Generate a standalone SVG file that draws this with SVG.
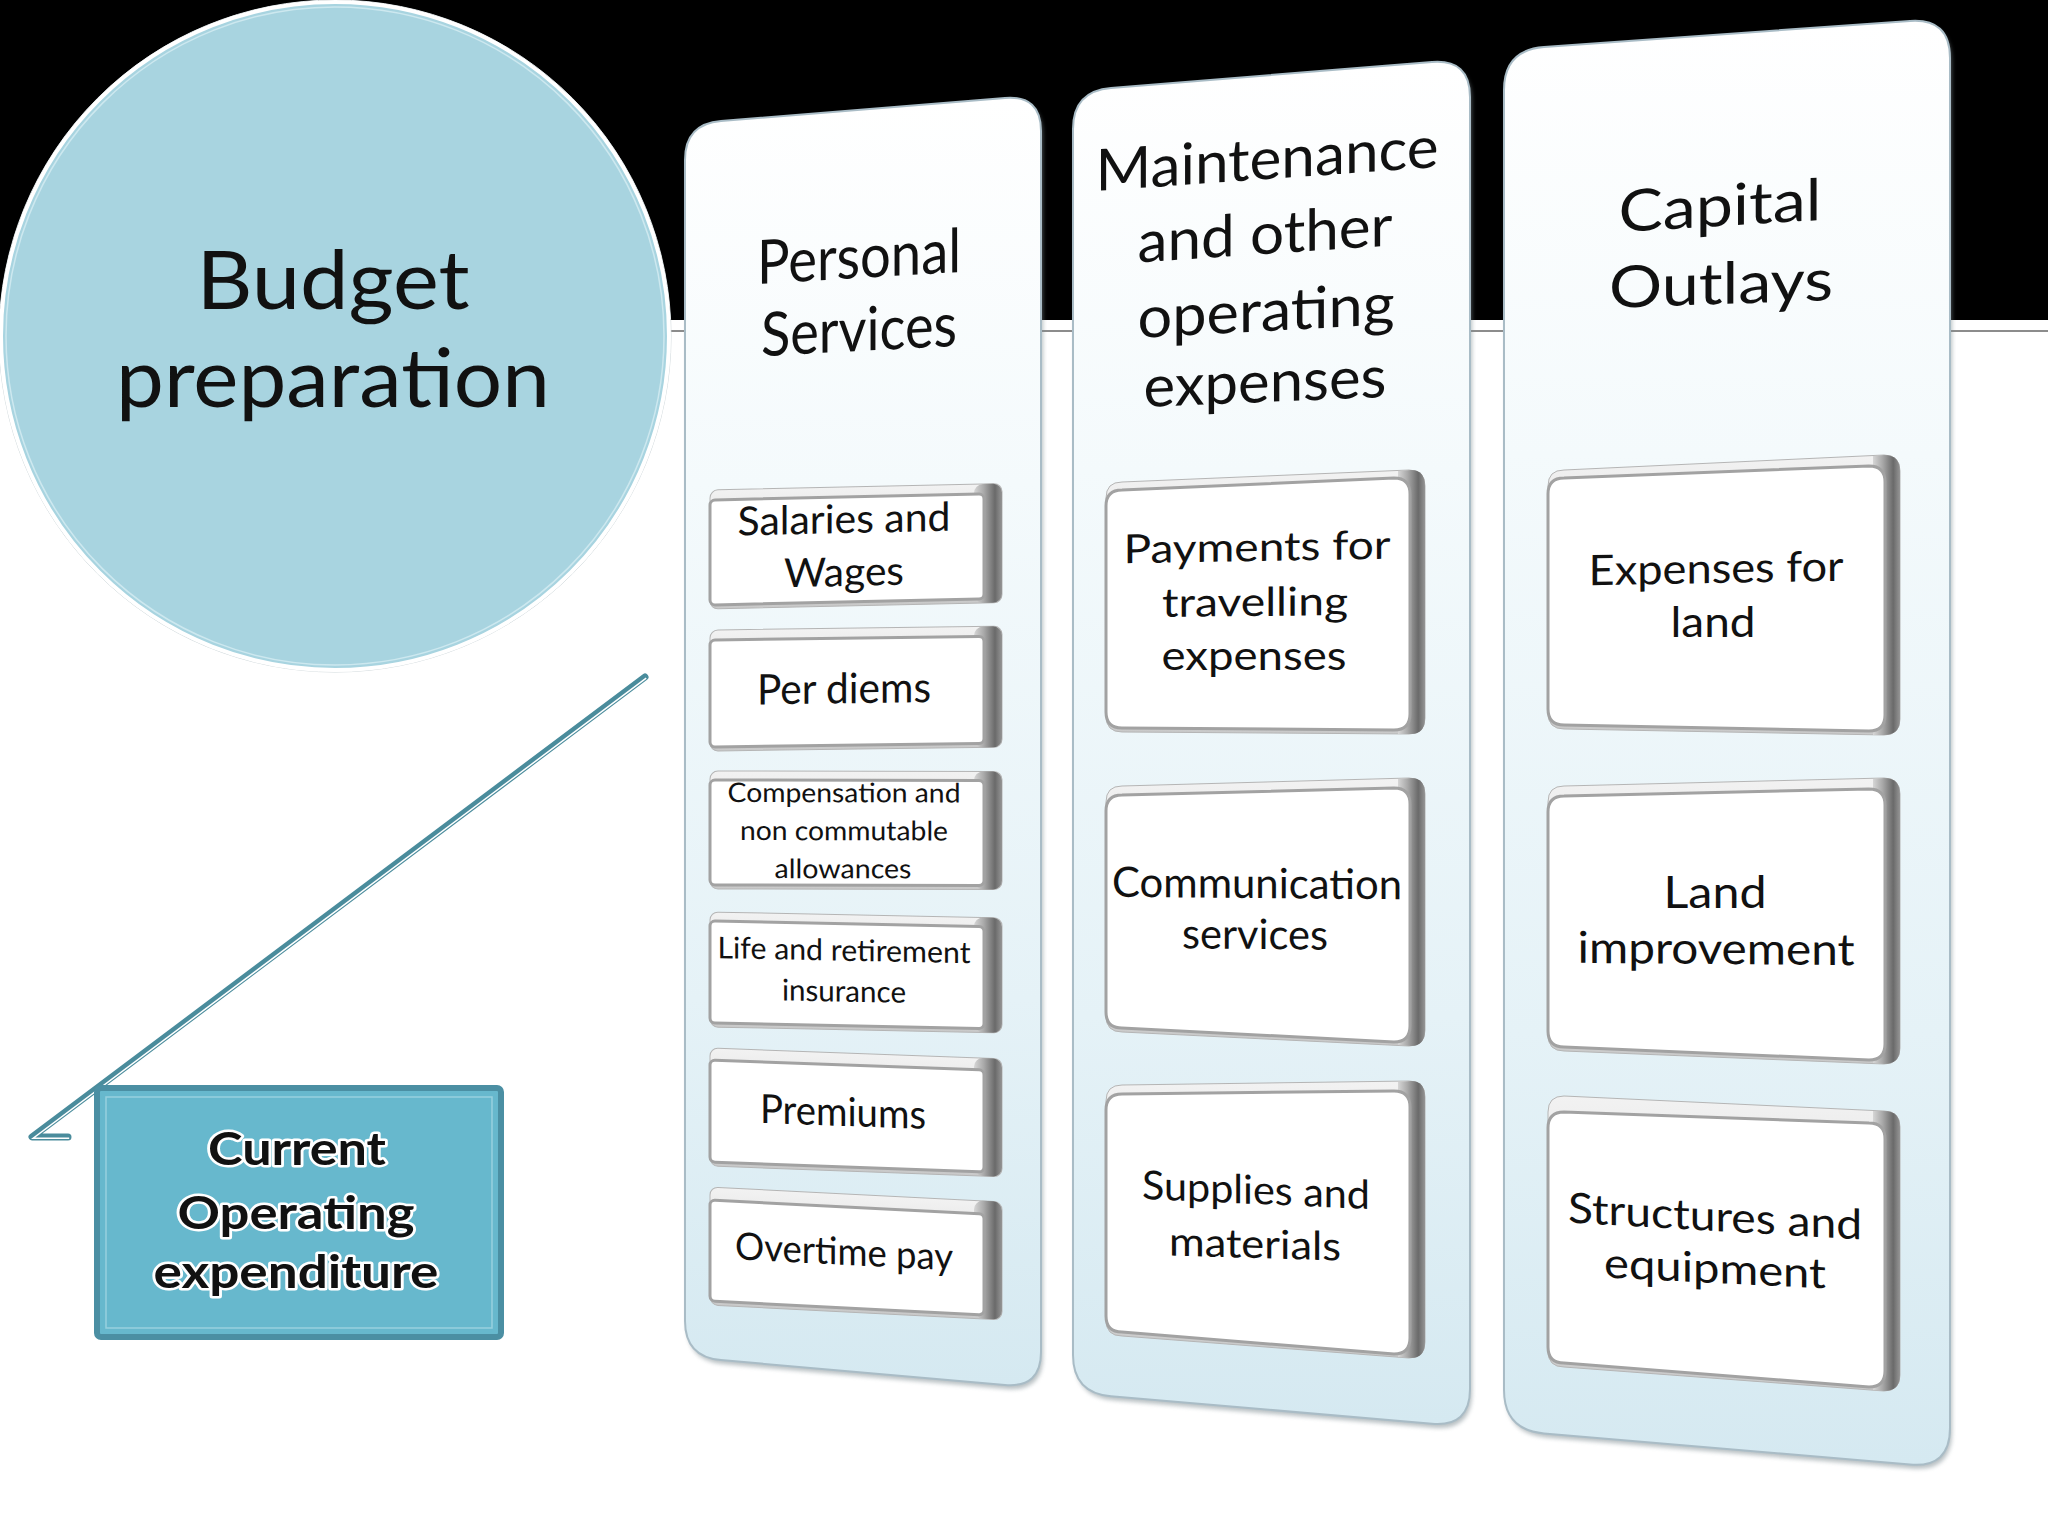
<svg xmlns="http://www.w3.org/2000/svg" width="2048" height="1536" viewBox="0 0 2048 1536">
<defs>
<linearGradient id="colGrad" x1="0" y1="0" x2="0" y2="1">
<stop offset="0" stop-color="#ffffff"/><stop offset="0.3" stop-color="#f4fafc"/><stop offset="0.7" stop-color="#e5f2f7"/><stop offset="1" stop-color="#d5e9f1"/>
</linearGradient>
<linearGradient id="bodyGrad" x1="0" y1="0" x2="0" y2="1">
<stop offset="0" stop-color="#f2f2f2"/><stop offset="1" stop-color="#c9c9c9"/>
</linearGradient>
<linearGradient id="slabGrad" x1="0" y1="0" x2="1" y2="0">
<stop offset="0" stop-color="#d6d6d6"/><stop offset="0.35" stop-color="#a9a9a9"/><stop offset="0.75" stop-color="#6a6a6a"/><stop offset="1" stop-color="#959595"/>
</linearGradient>
<filter id="blur" x="-5%" y="-5%" width="110%" height="110%"><feGaussianBlur stdDeviation="2"/></filter>
<style>
.col{fill:url(#colGrad);stroke:#a9bcc6;stroke-width:2}
.colsh{fill:#7f8d93;opacity:.55;filter:url(#blur)}
.bbody{fill:url(#bodyGrad);stroke:#b5b5b5;stroke-width:1}
.bslab{fill:url(#slabGrad)}
.bface{fill:#ffffff;stroke:#a2a2a2;stroke-width:3}
text{font-family:Lato,"Open Sans","DejaVu Sans",sans-serif;fill:#111;text-anchor:middle}
.big{font-size:82px}
.hd{font-size:58px}
.hd1{font-size:61px}
.t42{font-size:42px}
.t40{font-size:40px}
.t38{font-size:38px}
.t30{font-size:30px}
.t27{font-size:27px}
.t44{font-size:44px}
.cur{font-size:46px;font-weight:bold;stroke:#ffffff;stroke-width:5px;paint-order:stroke;stroke-linejoin:round}
</style>
</defs>

<rect x="0" y="0" width="2048" height="1536" fill="#ffffff"/>
<rect x="0" y="0" width="2048" height="320" fill="#000000"/>
<line x1="0" y1="331" x2="2048" y2="331" stroke="#8c8c8c" stroke-width="2"/>

<g id="connectors">
<polyline points="645,677 32,1137 68,1137" fill="none" stroke="#4a8c9c" stroke-width="7" stroke-linejoin="round" stroke-linecap="round"/>
<polyline points="645,677 32,1137 68,1137" fill="none" stroke="#ffffff" stroke-width="1.5" transform="translate(1.2,1.2)"/>
</g>

<g id="n-budget">
<circle cx="335" cy="336" r="336" fill="none" stroke="#cfd8db" stroke-width="1"/>
<circle cx="335" cy="336" r="334" fill="#a8d4e0" stroke="#ffffff" stroke-width="4"/>
<circle cx="335" cy="336" r="329" fill="none" stroke="#cde8ef" stroke-width="1.5"/>
<text class="big" x="333" y="309" textLength="273" lengthAdjust="spacingAndGlyphs">Budget</text>
<text class="big" x="333" y="407" textLength="434" lengthAdjust="spacingAndGlyphs">preparation</text>
</g>

<g id="n-current">
<rect x="97" y="1088" width="404" height="249" rx="4" fill="#67b8cd" stroke="#4b8fa3" stroke-width="6"/>
<rect x="106" y="1097" width="386" height="231" fill="none" stroke="#98d0de" stroke-width="1.5"/>
<text class="cur" x="297" y="1165" textLength="178" lengthAdjust="spacingAndGlyphs">Current</text>
<text class="cur" x="296" y="1229" textLength="237" lengthAdjust="spacingAndGlyphs">Operating</text>
<text class="cur" x="296" y="1288" textLength="285" lengthAdjust="spacingAndGlyphs">expenditure</text>
</g>

<!-- Column 1 -->
<g id="n-personal">
<path class="colsh" transform="translate(2,4)" d="M685,160 Q685,124 721,121.1 L1005,97.9 Q1041,95 1041,131 L1041,1352 Q1041,1388 1005,1384.9 L721,1360.1 Q685,1357 685,1321 Z"/>
<path class="col" d="M685,160 Q685,124 721,121.1 L1005,97.9 Q1041,95 1041,131 L1041,1352 Q1041,1388 1005,1384.9 L721,1360.1 Q685,1357 685,1321 Z"/>
<text class="hd1" transform="translate(859,278) skewY(-3.4)" textLength="204" lengthAdjust="spacingAndGlyphs">Personal</text>
<text class="hd1" transform="translate(859,351) skewY(-3)" textLength="196" lengthAdjust="spacingAndGlyphs">Services</text>
</g>

<g id="n-salaries" transform="translate(710,490) skewY(-1.26)">
<rect class="bbody" x="0" y="0" width="292" height="119" rx="8"/>
<rect class="bslab" x="264" y="0" width="28" height="119" rx="9"/>
<rect class="bface" x="0" y="10" width="274" height="105" rx="5"/>
<text class="t40" x="134" y="46" textLength="213" lengthAdjust="spacingAndGlyphs">Salaries and</text>
<text class="t40" x="134" y="99" textLength="120" lengthAdjust="spacingAndGlyphs">Wages</text>
</g>
<g id="n-perdiems" transform="translate(710,630) skewY(-0.74)">
<rect class="bbody" x="0" y="0" width="292" height="121" rx="8"/>
<rect class="bslab" x="264" y="0" width="28" height="121" rx="9"/>
<rect class="bface" x="0" y="10" width="274" height="107" rx="5"/>
<text class="t42" x="134" y="75" textLength="174" lengthAdjust="spacingAndGlyphs">Per diems</text>
</g>
<g id="n-compensation" transform="translate(710,771) skewY(0.1)">
<rect class="bbody" x="0" y="0" width="292" height="118" rx="8"/>
<rect class="bslab" x="264" y="0" width="28" height="118" rx="9"/>
<rect class="bface" x="0" y="9" width="274" height="105" rx="5"/>
<text class="t27" x="134" y="31" textLength="233" lengthAdjust="spacingAndGlyphs">Compensation and</text>
<text class="t27" x="134" y="69" textLength="208" lengthAdjust="spacingAndGlyphs">non commutable</text>
<text class="t27" x="133" y="107" textLength="137" lengthAdjust="spacingAndGlyphs">allowances</text>
</g>
<g id="n-life" transform="translate(710,912) skewY(1.15)">
<rect class="bbody" x="0" y="0" width="292" height="115" rx="8"/>
<rect class="bslab" x="264" y="0" width="28" height="115" rx="9"/>
<rect class="bface" x="0" y="9" width="274" height="102" rx="5"/>
<text class="t30" x="134" y="46" textLength="253" lengthAdjust="spacingAndGlyphs">Life and retirement</text>
<text class="t30" x="134" y="87" textLength="124" lengthAdjust="spacingAndGlyphs">insurance</text>
</g>
<g id="n-premiums" transform="translate(710,1048) skewY(2.1)">
<rect class="bbody" x="0" y="0" width="292" height="118" rx="8"/>
<rect class="bslab" x="264" y="0" width="28" height="118" rx="9"/>
<rect class="bface" x="0" y="12" width="274" height="102" rx="5"/>
<text class="t40" x="133" y="73" textLength="166" lengthAdjust="spacingAndGlyphs">Premiums</text>
</g>
<g id="n-overtime" transform="translate(710,1187) skewY(2.9)">
<rect class="bbody" x="0" y="0" width="292" height="118" rx="8"/>
<rect class="bslab" x="264" y="0" width="28" height="118" rx="9"/>
<rect class="bface" x="0" y="13" width="274" height="101" rx="5"/>
<text class="t38" x="134" y="71" textLength="218" lengthAdjust="spacingAndGlyphs">Overtime pay</text>
</g>

<!-- Column 2 -->
<g id="n-maintenance">
<path class="colsh" transform="translate(2,4)" d="M1073,129 Q1073,91 1111,87.9 L1432,62.1 Q1470,59 1470,97 L1470,1389 Q1470,1427 1432,1423.7 L1111,1396.3 Q1073,1393 1073,1355 Z"/>
<path class="col" d="M1073,129 Q1073,91 1111,87.9 L1432,62.1 Q1470,59 1470,97 L1470,1389 Q1470,1427 1432,1423.7 L1111,1396.3 Q1073,1393 1073,1355 Z"/>
<text class="hd" transform="translate(1267,179) skewY(-4)" textLength="343" lengthAdjust="spacingAndGlyphs">Maintenance</text>
<text class="hd" transform="translate(1265,254) skewY(-3.8)" textLength="255" lengthAdjust="spacingAndGlyphs">and other</text>
<text class="hd" transform="translate(1266,331) skewY(-3.1)" textLength="257" lengthAdjust="spacingAndGlyphs">operating</text>
<text class="hd" transform="translate(1265,402) skewY(-2.4)" textLength="243" lengthAdjust="spacingAndGlyphs">expenses</text>
</g>

<g id="n-travelling">
<path class="bbody" d="M1106,498 Q1106,482 1122,482 L1409,470 Q1425,470 1425,486 L1425,718 Q1425,734 1409,734 L1122,732 Q1106,732 1106,716 Z"/>
<path class="bslab" d="M1398,471 L1411,470 Q1425,470 1425,486 L1425,718 Q1425,734 1411,734 L1398,734 Z"/>
<path class="bface" d="M1106,506 Q1106,490 1122,490 L1394,478 Q1410,478 1410,494 L1410,714 Q1410,730 1394,730 L1122,728 Q1106,728 1106,712 Z"/>
<text class="t40" transform="translate(1257,561) skewY(-1)" textLength="267" lengthAdjust="spacingAndGlyphs">Payments for</text>
<text class="t40" transform="translate(1255,616) skewY(-0.5)" textLength="186" lengthAdjust="spacingAndGlyphs">travelling</text>
<text class="t40" transform="translate(1254,670)" textLength="185" lengthAdjust="spacingAndGlyphs">expenses</text>
</g>
<g id="n-communication">
<path class="bbody" d="M1106,802 Q1106,786 1122,786 L1409,778 Q1425,778 1425,794 L1425,1030 Q1425,1046 1409,1046 L1122,1032 Q1106,1032 1106,1016 Z"/>
<path class="bslab" d="M1398,779 L1411,778 Q1425,778 1425,794 L1425,1030 Q1425,1046 1411,1046 L1398,1045 Z"/>
<path class="bface" d="M1106,811 Q1106,795 1122,795 L1394,788 Q1410,788 1410,804 L1410,1026 Q1410,1042 1394,1042 L1122,1028 Q1106,1028 1106,1012 Z"/>
<text class="t42" transform="translate(1257,898) skewY(0.5)" textLength="290" lengthAdjust="spacingAndGlyphs">Communication</text>
<text class="t42" transform="translate(1255,949) skewY(0.5)" textLength="146" lengthAdjust="spacingAndGlyphs">services</text>
</g>
<g id="n-supplies">
<path class="bbody" d="M1106,1101 Q1106,1085 1122,1085 L1409,1081 Q1425,1081 1425,1097 L1425,1342 Q1425,1358 1409,1358 L1122,1336 Q1106,1336 1106,1320 Z"/>
<path class="bslab" d="M1398,1082 L1411,1081 Q1425,1081 1425,1097 L1425,1342 Q1425,1358 1411,1358 L1398,1357 Z"/>
<path class="bface" d="M1106,1110 Q1106,1094 1122,1094 L1394,1091 Q1410,1091 1410,1107 L1410,1338 Q1410,1354 1394,1354 L1122,1332 Q1106,1332 1106,1316 Z"/>
<text class="t40" transform="translate(1256,1204) skewY(2.5)" textLength="228" lengthAdjust="spacingAndGlyphs">Supplies and</text>
<text class="t40" transform="translate(1255,1258) skewY(1.7)" textLength="172" lengthAdjust="spacingAndGlyphs">materials</text>
</g>

<!-- Column 3 -->
<g id="n-capital">
<path class="colsh" transform="translate(2,4)" d="M1504,90 Q1504,50 1544,47.1 L1910,20.9 Q1950,18 1950,58 L1950,1428 Q1950,1468 1910,1464.6 L1544,1433.4 Q1504,1430 1504,1390 Z"/>
<path class="col" d="M1504,90 Q1504,50 1544,47.1 L1910,20.9 Q1950,18 1950,58 L1950,1428 Q1950,1468 1910,1464.6 L1544,1433.4 Q1504,1430 1504,1390 Z"/>
<text class="hd" transform="translate(1720,226) skewY(-3.4)" textLength="203" lengthAdjust="spacingAndGlyphs">Capital</text>
<text class="hd" transform="translate(1721,304) skewY(-2)" textLength="224" lengthAdjust="spacingAndGlyphs">Outlays</text>
</g>

<g id="n-land">
<path class="bbody" d="M1548,486 Q1548,470 1564,470 L1884,455 Q1900,455 1900,471 L1900,719 Q1900,735 1884,735 L1564,729 Q1548,729 1548,713 Z"/>
<path class="bslab" d="M1873,456 L1884,455 Q1900,455 1900,471 L1900,719 Q1900,735 1884,735 L1873,735 Z"/>
<path class="bface" d="M1548,494 Q1548,478 1564,478 L1869,466 Q1885,466 1885,482 L1885,715 Q1885,731 1869,731 L1564,725 Q1548,725 1548,709 Z"/>
<text class="t42" transform="translate(1716,583) skewY(-1)" textLength="255" lengthAdjust="spacingAndGlyphs">Expenses for</text>
<text class="t42" transform="translate(1713,637)" textLength="85" lengthAdjust="spacingAndGlyphs">land</text>
</g>
<g id="n-landimprovement">
<path class="bbody" d="M1548,802 Q1548,786 1564,786 L1884,778 Q1900,778 1900,794 L1900,1048 Q1900,1064 1884,1064 L1564,1051 Q1548,1051 1548,1035 Z"/>
<path class="bslab" d="M1873,779 L1884,778 Q1900,778 1900,794 L1900,1048 Q1900,1064 1884,1064 L1873,1063 Z"/>
<path class="bface" d="M1548,812 Q1548,796 1564,796 L1869,789 Q1885,789 1885,805 L1885,1044 Q1885,1060 1869,1060 L1564,1047 Q1548,1047 1548,1031 Z"/>
<text class="t44" transform="translate(1715,908)" textLength="103" lengthAdjust="spacingAndGlyphs">Land</text>
<text class="t44" transform="translate(1716,964) skewY(0.5)" textLength="277" lengthAdjust="spacingAndGlyphs">improvement</text>
</g>
<g id="n-structures">
<path class="bbody" d="M1548,1112 Q1548,1096 1564,1096 L1884,1111 Q1900,1111 1900,1127 L1900,1375 Q1900,1391 1884,1391 L1564,1367 Q1548,1367 1548,1351 Z"/>
<path class="bslab" d="M1873,1111 L1884,1111 Q1900,1111 1900,1127 L1900,1375 Q1900,1391 1884,1391 L1873,1390 Z"/>
<path class="bface" d="M1548,1128 Q1548,1112 1564,1112 L1869,1123 Q1885,1123 1885,1139 L1885,1371 Q1885,1387 1869,1387 L1564,1363 Q1548,1363 1548,1347 Z"/>
<text class="t42" transform="translate(1715,1231) skewY(3.3)" textLength="294" lengthAdjust="spacingAndGlyphs">Structures and</text>
<text class="t42" transform="translate(1715,1283) skewY(2.8)" textLength="222" lengthAdjust="spacingAndGlyphs">equipment</text>
</g>
</svg>
